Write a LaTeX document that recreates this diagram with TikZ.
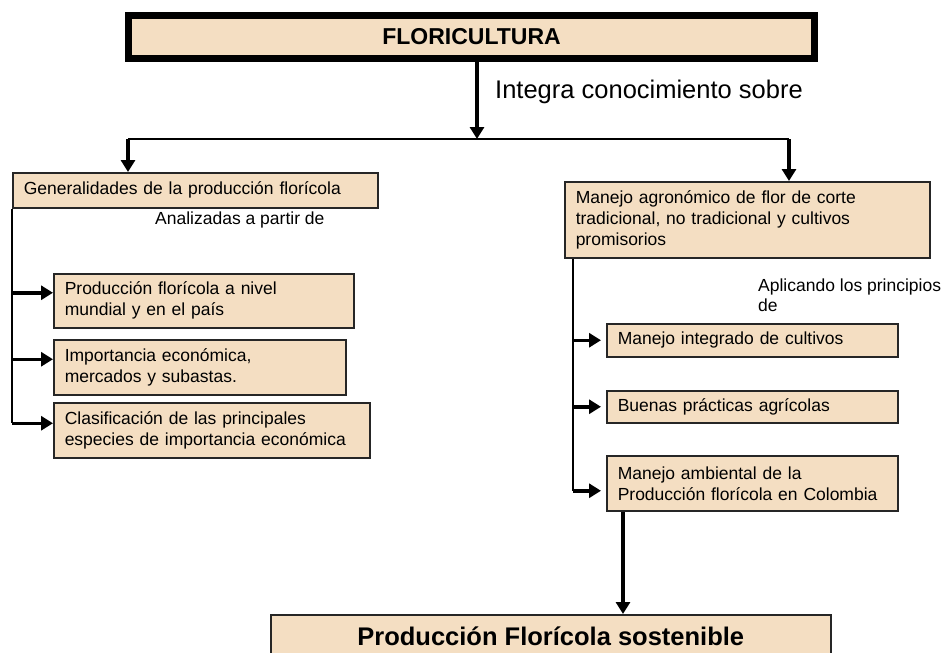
\documentclass[tikz,border=0pt]{standalone}
\usepackage{fontspec}
\setmainfont{Liberation Sans}
\usepackage{xcolor}
\usetikzlibrary{arrows.meta}
\definecolor{peach}{RGB}{244,222,194}

\begin{document}
\begin{tikzpicture}[x=1pt,y=-1pt,
        caja/.style={draw=black!85,line width=1.5pt,fill=peach,anchor=north west,inner xsep=11pt,inner ysep=0pt,align=left,font=\fontsize{17.5}{21}\selectfont},
        texto/.style={inner sep=0pt,anchor=west,align=left,font=\fontsize{17.5}{20}\selectfont},
        flecha/.style={line width=3.5pt,-{Triangle[length=12pt,width=14pt]}},
        linea/.style={line width=2pt}]
        \clip (0,0) rectangle (948,653);
        \node[draw,line width=7pt,fill=peach,minimum width=686pt,minimum height=43pt,inner sep=0pt,font=\fontsize{23}{27}\selectfont\bfseries](flori) at (471.5,37) {FLORICULTURA};
        \node[texto,font=\fontsize{25.5}{30}\selectfont](integra) at (495,92) {Integra conocimiento sobre};
        \node[caja,text width=343pt,minimum height=35pt](gen) at (12,172) {Generalidades de la producción florícola};
        \node[texto](anal) at (155,220) {Analizadas a partir de};
        \node[caja,text width=278pt,minimum height=54pt](prod) at (53,273) {Producción florícola a nivel\\mundial y en el país};
        \node[caja,text width=270pt,minimum height=55pt](impo) at (53,339) {Importancia económica,\\mercados y subastas.};
        \node[caja,text width=294pt,minimum height=55pt](clas) at (53,402) {Clasificación de las principales\\especies de importancia económica};
        \node[caja,text width=343pt,minimum height=76pt](man) at (564,181) {Manejo agronómico de flor de corte\\tradicional, no tradicional y cultivos\\promisorios};
        \node[texto,anchor=north west](apli) at (758,279) {Aplicando los principios\\de};
        \node[caja,text width=269pt,minimum height=33pt](integ) at (606,323) {Manejo integrado de cultivos};
        \node[caja,text width=269pt,minimum height=32pt](buenas) at (606,390) {Buenas prácticas agrícolas};
        \node[caja,text width=269pt,minimum height=55pt](amb) at (606,455) {Manejo ambiental de la\\Producción florícola en Colombia};
        \node[caja,align=center,minimum width=560pt,minimum height=44pt,font=\fontsize{25.5}{30}\selectfont\bfseries](sost) at (270,614) {Producción Florícola sostenible};
        \coordinate(busc) at (477,139);
        \coordinate(busl) at (128,139);
        \coordinate(busr) at (789,139);
        \coordinate(ap) at ([yshift=8pt]prod.west);
        \coordinate(ai) at ([yshift=8pt]impo.west);
        \coordinate(ac) at ([yshift=7pt]clas.west);
        \coordinate(rt) at ([xshift=9pt]man.south west);
        \coordinate(bi) at (integ.west);
        \coordinate(bb) at (buenas.west);
        \coordinate(ba) at ([yshift=-7.5pt]amb.west);
        \coordinate(qa) at ([xshift=17pt]amb.south west);
        \draw[flecha](flori.south -| busc)--(busc);
        \draw[linea](busl)--(busr);
        \draw[flecha](busl)--(gen.north -| busl);
        \draw[flecha](busr)--(man.north -| busr);
        \draw[linea](gen.south west)--(gen.south west |- ac);
        \draw[flecha](gen.west |- ap)--(ap);
        \draw[flecha](gen.west |- ai)--(ai);
        \draw[flecha](gen.west |- ac)--(ac);
        \draw[linea](rt)--(rt |- ba);
        \draw[flecha,shorten >=5pt](rt |- bi)--(bi);
        \draw[flecha,shorten >=5pt](rt |- bb)--(bb);
        \draw[flecha,shorten >=5pt](rt |- ba)--(ba);
        \draw[flecha](qa)--(qa |- sost.north);
        \end{tikzpicture}
\end{document}
